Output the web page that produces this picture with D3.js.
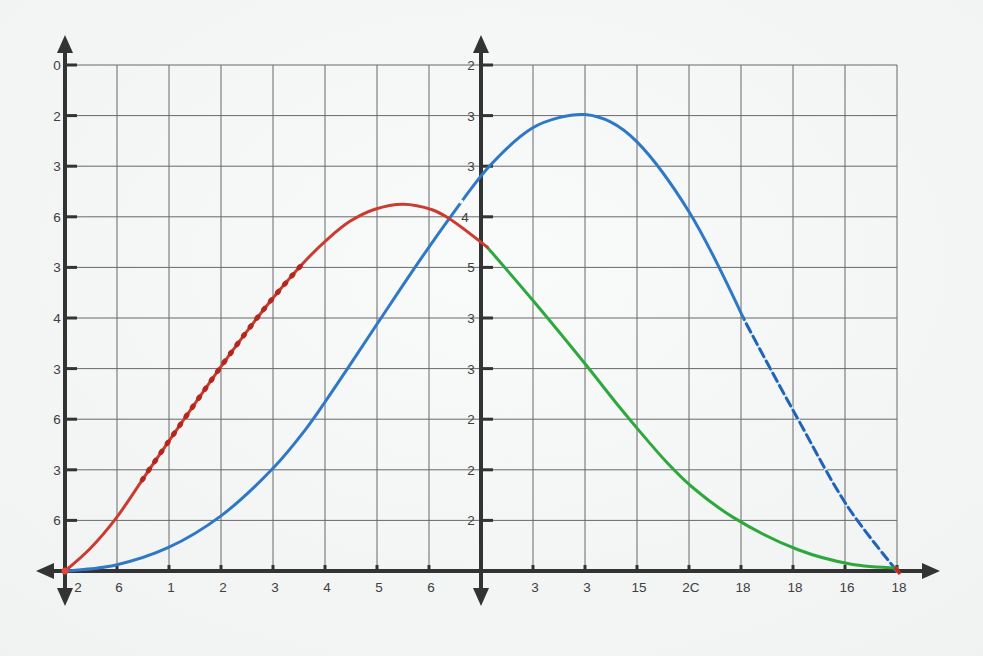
<!DOCTYPE html>
<html lang="en">
<head>
    <meta charset="utf-8">
    <title>Curves on a double-axis grid</title>
    <script src="https://d3js.org/d3.v7.min.js"></script>
    <style>
        body {
            margin: 0;
            background: #f4f5f5;
            font-family: "Liberation Sans", Arial, sans-serif;
        }
        .grid line {
            stroke: #686868;
            stroke-width: 1;
        }
        .axis-line {
            stroke: #333;
            stroke-width: 4;
        }
        .tick-mark {
            stroke: #333;
            stroke-width: 3;
        }
        .arrow {
            fill: #333;
        }
        .lbl {
            font-size: 13.5px;
            fill: #404040;
            text-anchor: middle;
        }
        .curve {
            fill: none;
            stroke-width: 3;
            stroke-linecap: round;
        }
    </style>
</head>
<body>
    <svg id="chart" width="983" height="656"></svg>
    <script>
        // tick labels as printed on the sheet
        const xLabelsLeft = ['2', '6', '1', '2', '3', '4', '5', '6'];
        const xLabelsRight = ['3', '3', '15', '2C', '18', '18', '16', '18'];
        const yLabelsLeft = ['6', '3', '6', '3', '4', '3', '6', '3', '2', '0'];   // bottom row -> top row
        const yLabelsRight = ['2', '2', '2', '3', '3', '5', '4', '3', '3', '2'];

        // curves, in grid units (column, row)
        const redSeries = [
            [0, 0], [0.48, 0.44], [0.98, 1.04], [1.63, 2.02], [2.33, 3.06], [3.02, 4.07],
            [3.56, 4.82], [4.02, 5.42], [4.65, 6.16], [5.04, 6.55], [5.48, 6.91],
            [5.96, 7.15], [6.5, 7.25], [7.06, 7.14], [7.35, 6.99], [8.12, 6.40]
        ];
        const greenSeries = [
            [8.12, 6.40], [9.02, 5.32], [10.02, 4.07], [10.67, 3.23], [11.06, 2.75],
            [11.58, 2.14], [12.06, 1.66], [12.85, 1.06], [14.1, 0.42], [15.1, 0.14], [16, 0.06]
        ];
        const blueSolid = [
            [0, 0], [0.98, 0.12], [1.98, 0.46], [3.0, 1.09], [4.0, 2.03], [4.62, 2.79],
            [5.02, 3.37], [5.42, 3.98], [6.04, 4.94], [6.77, 6.06], [7.4, 6.98],
            [8.17, 8.01], [8.98, 8.75], [9.5, 8.96], [10.0, 9.02], [10.5, 8.87],
            [11.0, 8.48], [12.0, 7.10], [13.06, 4.97]
        ];
        const blueDashed = [
            [12.0, 7.10], [13.06, 4.97], [14.08, 3.03], [15.06, 1.26], [16, 0]
        ];

        const svg = d3.select('#chart');
        const x = d3.scaleLinear().domain([0, 16]).range([65, 897]);
        const y = d3.scaleLinear().domain([0, 10]).range([571, 65]);

        // paper
        const defs = svg.append('defs');
        const grad = defs.append('radialGradient')
            .attr('id', 'paper').attr('cx', '50%').attr('cy', '40%').attr('r', '80%');
        grad.append('stop').attr('offset', '0%').attr('stop-color', '#f9fafa');
        grad.append('stop').attr('offset', '100%').attr('stop-color', '#f0f1f1');
        svg.append('rect').attr('width', 983).attr('height', 656).attr('fill', 'url(#paper)');

        // grid
        const grid = svg.append('g').attr('class', 'grid');
        grid.selectAll('.h')
            .data(d3.range(1, 11))
            .enter().append('line')
            .attr('x1', x(0)).attr('x2', x(16))
            .attr('y1', d => y(d)).attr('y2', d => y(d));
        grid.selectAll('.v')
            .data(d3.range(1, 17).filter(d => d !== 8))
            .enter().append('line')
            .attr('x1', d => x(d)).attr('x2', d => x(d))
            .attr('y1', y(10)).attr('y2', y(0));

        // axes: x axis and two vertical axes (at column 0 and column 8)
        const axes = svg.append('g');
        axes.append('line').attr('class', 'axis-line')
            .attr('x1', 44).attr('x2', 930).attr('y1', y(0)).attr('y2', y(0));
        [0, 8].forEach(c => {
            axes.append('line').attr('class', 'axis-line')
                .attr('x1', x(c)).attr('x2', x(c)).attr('y1', 45).attr('y2', 596);
            axes.append('path').attr('class', 'arrow')
                .attr('d', `M${x(c)},35 L${x(c) - 8},53 L${x(c) + 8},53 Z`);
            axes.append('path').attr('class', 'arrow')
                .attr('d', `M${x(c)},606 L${x(c) - 8},588 L${x(c) + 8},588 Z`);
            axes.selectAll(null)
                .data(d3.range(1, 11))
                .enter().append('line').attr('class', 'tick-mark')
                .attr('x1', x(c)).attr('x2', x(c) + 12)
                .attr('y1', d => y(d)).attr('y2', d => y(d));
        });
        axes.append('path').attr('class', 'arrow')
            .attr('d', `M36,${y(0)} L54,${y(0) - 8} L54,${y(0) + 8} Z`);
        axes.append('path').attr('class', 'arrow')
            .attr('d', `M940,${y(0)} L922,${y(0) - 8} L922,${y(0) + 8} Z`);
        axes.selectAll(null)
            .data(d3.range(1, 17).filter(d => d !== 8))
            .enter().append('line').attr('class', 'tick-mark')
            .attr('x1', d => x(d)).attr('x2', d => x(d))
            .attr('y1', y(0) - 6).attr('y2', y(0));

        // x labels
        const xCols = d3.range(0, 8).concat(d3.range(9, 17));
        const xLabels = xLabelsLeft.concat(xLabelsRight);
        svg.selectAll('.xl')
            .data(xCols)
            .enter().append('text').attr('class', 'lbl')
            .attr('x', d => x(d) + (d === 0 ? 13 : 2))
            .attr('y', y(0) + 21)
            .text((d, i) => xLabels[i]);

        // y labels
        svg.selectAll('.yl')
            .data(yLabelsLeft)
            .enter().append('text').attr('class', 'lbl')
            .attr('x', x(0) - 8)
            .attr('y', (d, i) => y(i + 1) + 5)
            .text(d => d);
        svg.selectAll('.yr')
            .data(yLabelsRight)
            .enter().append('text').attr('class', 'lbl')
            .attr('x', (d, i) => x(8) - (i === 6 ? 16 : 10))
            .attr('y', (d, i) => y(i + 1) + 5)
            .text(d => d);

        // curves
        const line = d3.line()
            .x(d => x(d[0]))
            .y(d => y(d[1]))
            .curve(d3.curveCatmullRom.alpha(0.5));

        const red = '#cc3b2f', blue = '#2f78c6', green = '#2da83c';

        svg.append('path').attr('class', 'curve').attr('d', line(blueSolid)).attr('stroke', blue);

        // dashed tail: whole tail path, shown only from where the solid part stops
        const tail = svg.append('g');
        defs.append('clipPath').attr('id', 'tailClip')
            .append('rect')
            .attr('x', x(13.06)).attr('y', 0).attr('width', 983 - x(13.06)).attr('height', 656);
        tail.attr('clip-path', 'url(#tailClip)');
        tail.append('path').attr('class', 'curve').attr('d', line(blueDashed))
            .attr('stroke', '#d9e6f3').attr('stroke-width', 3.5);
        tail.append('path').attr('class', 'curve').attr('d', line(blueDashed))
            .attr('stroke', '#1f64b8').attr('stroke-width', 4.5)
            .attr('stroke-linecap', 'butt').attr('stroke-dasharray', '9,5');

        // small break in the blue line near the right axis
        svg.append('circle')
            .attr('cx', x(7.62)).attr('cy', y(7.3)).attr('r', 2.2).attr('fill', '#f7f8f8');

        svg.append('path').attr('class', 'curve').attr('d', line(greenSeries)).attr('stroke', green);
        const redPath = svg.append('path').attr('class', 'curve')
            .attr('d', line(redSeries)).attr('stroke', red);

        // beaded part of the red line: small lens shapes following the path
        const node = redPath.node();
        const total = node.getTotalLength();
        const beads = [];
        for (let l = 0; l < total; l += 11) {
            const p = node.getPointAtLength(l);
            if (p.x < x(1.4) || p.x > x(4.6)) continue;
            const q = node.getPointAtLength(l + 1);
            beads.push({ x: p.x, y: p.y, a: Math.atan2(q.y - p.y, q.x - p.x) * 180 / Math.PI });
        }
        svg.selectAll('.bead')
            .data(beads)
            .enter().append('ellipse')
            .attr('rx', 3.6).attr('ry', 2.6)
            .attr('fill', '#b3281e')
            .attr('transform', d => `translate(${d.x},${d.y}) rotate(${d.a})`);

        // end markers
        svg.append('circle').attr('cx', x(0)).attr('cy', y(0)).attr('r', 3.5).attr('fill', '#e0473a');
        svg.append('line')
            .attr('x1', x(16) - 2).attr('y1', y(0) - 4).attr('x2', x(16) + 3).attr('y2', y(0) + 3)
            .attr('stroke', '#c8281e').attr('stroke-width', 3.5);
    </script>
</body>
</html>
